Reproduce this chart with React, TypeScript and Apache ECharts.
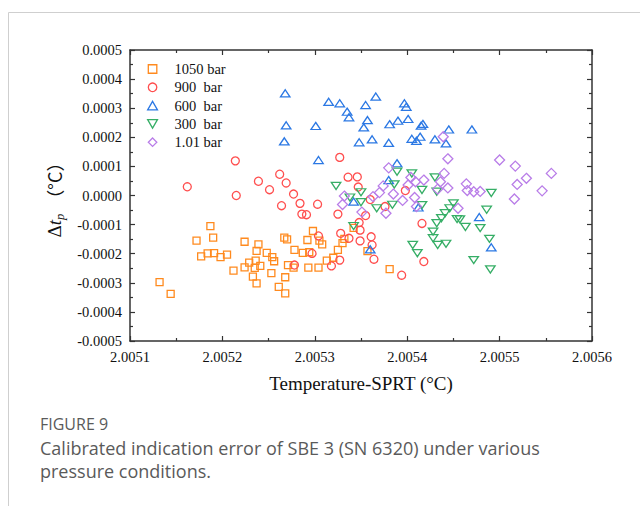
import React, { useEffect, useRef } from 'react';
import * as echarts from 'echarts';

const xTickValues = [2.0051, 2.0052, 2.0053, 2.0054, 2.0055, 2.0056];
const yTickValues = [-0.0005, -0.0004, -0.0003, -0.0002, -0.0001, 0, 0.0001, 0.0002, 0.0003, 0.0004, 0.0005];
const seriesNames = ['1050 bar', '900  bar', '600  bar', '300  bar', '1.01 bar'];
const seriesColors = ['#FF8A1E', '#FF4E4E', '#2B78E4', '#36AE66', '#B97DE8'];

const p1050: [number, number][] = [
  [2.005132, -0.000298], [2.005144, -0.000338], [2.005187, -0.000105], [2.005190, -0.000145],
  [2.005172, -0.000155], [2.005177, -0.000209], [2.005184, -0.000199], [2.005191, -0.000198],
  [2.005198, -0.000212], [2.005205, -0.000203], [2.005212, -0.000258], [2.005224, -0.000159],
  [2.005224, -0.000247], [2.005229, -0.000231], [2.005236, -0.000224], [2.005239, -0.000168],
  [2.005237, -0.000190], [2.005241, -0.000242], [2.005235, -0.000249], [2.005233, -0.000279],
  [2.005237, -0.000302], [2.005248, -0.000197], [2.005254, -0.000212], [2.005256, -0.000226],
  [2.005253, -0.000267], [2.005261, -0.000314], [2.005268, -0.000336], [2.005268, -0.000281],
  [2.005267, -0.000145], [2.005270, -0.000151], [2.005271, -0.000239], [2.005298, -0.000122],
  [2.005292, -0.000153], [2.005305, -0.000155], [2.005308, -0.000168], [2.005278, -0.000187],
  [2.005287, -0.000197], [2.005294, -0.000195], [2.005325, -0.000187], [2.005330, -0.000164],
  [2.005332, -0.000149], [2.005342, -0.000111], [2.005277, -0.000248], [2.005293, -0.000248],
  [2.005304, -0.000248], [2.005313, -0.000224], [2.005320, -0.000214], [2.005357, -0.000191],
  [2.005381, -0.000253],
];

const p900: [number, number][] = [
  [2.005162, 0.000030], [2.005214, 0.000119], [2.005215, 0.000000], [2.005239, 0.000049],
  [2.005251, 0.000020], [2.005262, 0.000073], [2.005269, 0.000043], [2.005264, -0.000035],
  [2.005277, 0.000005], [2.005284, -0.000027], [2.005286, -0.000064], [2.005291, -0.000066],
  [2.005303, -0.000030], [2.005325, -0.000064], [2.005327, 0.000131], [2.005336, 0.000063],
  [2.005346, 0.000064], [2.005347, 0.000029], [2.005360, -0.000014], [2.005398, 0.000017],
  [2.005348, -0.000093], [2.005349, -0.000119], [2.005328, -0.000130], [2.005337, -0.000147],
  [2.005349, -0.000156], [2.005361, -0.000142], [2.005362, -0.000170], [2.005304, -0.000139],
  [2.005297, -0.000199], [2.005278, -0.000239], [2.005327, -0.000222], [2.005318, -0.000242],
  [2.005364, -0.000219], [2.005416, -0.000096], [2.005418, -0.000227], [2.005394, -0.000274],
  [2.005376, -0.000038], [2.005355, -0.000069],
];

const p600: [number, number][] = [
  [2.005268, 0.000351], [2.005269, 0.000241], [2.005267, 0.000186], [2.005315, 0.000322],
  [2.005327, 0.000317], [2.005335, 0.000288], [2.005337, 0.000269], [2.005355, 0.000311],
  [2.005366, 0.000340], [2.005397, 0.000317], [2.005399, 0.000305], [2.005301, 0.000239],
  [2.005357, 0.000259], [2.005353, 0.000234], [2.005381, 0.000245], [2.005390, 0.000257],
  [2.005401, 0.000263], [2.005415, 0.000240], [2.005417, 0.000246], [2.005445, 0.000227],
  [2.005470, 0.000227], [2.005348, 0.000183], [2.005362, 0.000193], [2.005380, 0.000181],
  [2.005405, 0.000195], [2.005414, 0.000202], [2.005410, 0.000188], [2.005430, 0.000193],
  [2.005442, 0.000179], [2.005304, 0.000122], [2.005389, 0.000111], [2.005342, -0.000021],
  [2.005478, -0.000074], [2.005491, -0.000178], [2.005360, -0.000185], [2.005380, 0.000053],
  [2.005412, -0.000041],
];

const p300: [number, number][] = [
  [2.005323, 0.000033], [2.005350, 0.000011], [2.005350, -0.000023], [2.005367, -0.000044],
  [2.005384, -0.000032], [2.005389, 0.000082], [2.005386, 0.000038], [2.005405, 0.000076],
  [2.005416, 0.000019], [2.005430, 0.000062], [2.005432, 0.000013], [2.005416, -0.000033],
  [2.005450, -0.000027], [2.005446, -0.000044], [2.005338, -0.000007], [2.005441, -0.000061],
  [2.005454, -0.000081], [2.005491, 0.000009], [2.005486, -0.000049], [2.005463, -0.000108],
  [2.005479, -0.000112], [2.005489, -0.000149], [2.005472, -0.000222], [2.005490, -0.000254],
  [2.005457, -0.000082], [2.005432, -0.000095], [2.005437, -0.000078], [2.005428, -0.000124],
  [2.005428, -0.000147], [2.005433, -0.000170], [2.005442, -0.000166], [2.005406, -0.000170],
  [2.005411, -0.000198], [2.005342, -0.000105],
];

const p101: [number, number][] = [
  [2.005439, 0.000202], [2.005444, 0.000126], [2.005380, 0.000095], [2.005440, 0.000076],
  [2.005404, 0.000062], [2.005418, 0.000053], [2.005374, 0.000033], [2.005385, 0.000005],
  [2.005370, 0.000010], [2.005332, -0.000002], [2.005330, -0.000031], [2.005351, -0.000057],
  [2.005377, -0.000061], [2.005395, -0.000017], [2.005408, -0.000007], [2.005410, -0.000038],
  [2.005409, 0.000047], [2.005436, 0.000047], [2.005444, 0.000026], [2.005433, 0.000022],
  [2.005455, -0.000044], [2.005464, 0.000040], [2.005465, 0.000017], [2.005472, 0.000013],
  [2.005479, 0.000014], [2.005500, 0.000122], [2.005517, 0.000101], [2.005556, 0.000076],
  [2.005529, 0.000059], [2.005519, 0.000038], [2.005546, 0.000016], [2.005516, -0.000012],
  [2.005363, -0.000004], [2.005401, 0.000036],
];

const seriesData = [p1050, p900, p600, p300, p101];
const seriesSymbols = [
  'path://M0,0L10,0L10,10L0,10Z',
  'circle',
  'path://M5,0L10,8.66L0,8.66Z',
  'path://M0,0L10,0L5,8.66Z',
  'path://M5,0L10,5L5,10L0,5Z',
];
const seriesSizes: (number | number[])[] = [7, 8, [9.5, 8.2], [9.5, 8.2], [10, 10]];

const SERIF = "'Liberation Serif', 'Times New Roman', serif";
const SANS = "'Open Sans', 'Noto Sans', sans-serif";
const AXIS_COLOR = '#333';

const fmt = (v: number) => (Math.abs(v) < 1e-12 ? '0.0000' : v.toFixed(4));

export default function App() {
  const ref = useRef<HTMLDivElement>(null);
  useEffect(() => {
    if (!ref.current) return;
    const chart = echarts.init(ref.current, undefined, { renderer: 'svg' });
    const xMin = xTickValues[0];
    const xMax = xTickValues[xTickValues.length - 1];
    const yMin = yTickValues[0];
    const yMax = yTickValues[yTickValues.length - 1];
    const common = {
      axisLine: { show: true, onZero: false, lineStyle: { color: AXIS_COLOR, width: 1.5 } },
      axisTick: { show: true, inside: true, length: 5, lineStyle: { color: AXIS_COLOR, width: 1.2 } },
      minorTick: { show: true, splitNumber: 2, length: 3, lineStyle: { color: AXIS_COLOR, width: 1.2 } },
      splitLine: { show: false },
      minorSplitLine: { show: false },
    };
    const option: any = {
      animation: false,
      backgroundColor: '#fff',
      grid: { left: 130, top: 50, width: 462, height: 291, containLabel: false, outerBoundsMode: 'none' },
      xAxis: [
        {
          type: 'value', min: xMin, max: xMax, interval: 0.0001, position: 'bottom',
          ...common,
          axisLabel: {
            show: true, margin: 8, formatter: fmt, showMinLabel: true, showMaxLabel: true,
            fontFamily: SERIF, fontSize: 14.5, color: '#111',
          },
          name: 'Temperature-SPRT (°C)', nameLocation: 'middle', nameGap: 33,
          nameTextStyle: { fontFamily: SERIF, fontSize: 19, color: '#111' },
        },
        {
          type: 'value', min: xMin, max: xMax, interval: 0.0001, position: 'top',
          ...common, axisLabel: { show: false },
        },
      ],
      yAxis: [
        {
          type: 'value', min: yMin, max: yMax, interval: 0.0001, position: 'left',
          ...common,
          axisLabel: {
            show: true, margin: 8, formatter: fmt, showMinLabel: true, showMaxLabel: true,
            fontFamily: SERIF, fontSize: 14.5, color: '#111',
          },
          name: '{d|Δ}{t|t}{s|p}{g| }{u|（°C）}', nameLocation: 'middle', nameGap: 62, nameRotate: 90,
          nameTextStyle: {
            fontFamily: SERIF, fontSize: 19, color: '#111',
            rich: {
              d: { fontFamily: SERIF, fontSize: 19, color: '#111', lineHeight: 24 },
              t: { fontFamily: SERIF, fontSize: 19, fontStyle: 'italic', color: '#111', lineHeight: 24 },
              s: { fontFamily: SERIF, fontSize: 12.5, fontStyle: 'italic', color: '#111', lineHeight: 12, verticalAlign: 'bottom' },
              g: { fontFamily: SERIF, fontSize: 19, lineHeight: 24, width: 6 },
              u: { fontFamily: "'Noto Sans CJK SC', 'Liberation Serif', serif", fontSize: 18, color: '#111', lineHeight: 24 },
            },
          },
        },
        {
          type: 'value', min: yMin, max: yMax, interval: 0.0001, position: 'right',
          ...common, axisLabel: { show: false },
        },
      ],
      legend: {
        orient: 'vertical', left: 147, top: 60, padding: 0, itemGap: 0.3,
        itemWidth: 34, itemHeight: 8.5, selectedMode: false, symbolKeepAspect: true,
        textStyle: { fontFamily: SERIF, fontSize: 14.5, color: '#111', lineHeight: 18 },
        data: seriesNames.map((n, i) => ({
          name: n,
          icon: seriesSymbols[i],
          itemStyle: { color: 'rgba(0,0,0,0)', borderColor: seriesColors[i], borderWidth: 1.3 },
        })),
      },
      series: seriesNames.map((n, i) => ({
        name: n,
        type: 'scatter',
        xAxisIndex: 0,
        yAxisIndex: 0,
        data: seriesData[i],
        symbol: seriesSymbols[i],
        symbolSize: seriesSizes[i],
        symbolKeepAspect: true,
        itemStyle: { color: 'rgba(0,0,0,0)', borderColor: seriesColors[i], borderWidth: 1.3, opacity: 1 },
        emphasis: { disabled: true },
      })),
      graphic: [
        { type: 'line', shape: { x1: 8.5, y1: 12.5, x2: 640, y2: 12.5 }, style: { stroke: '#cfcfcf', lineWidth: 1 }, silent: true },
        { type: 'line', shape: { x1: 8.5, y1: 12.5, x2: 8.5, y2: 506 }, style: { stroke: '#cfcfcf', lineWidth: 1 }, silent: true },
        { type: 'text', x: 40, y: 424, style: { text: 'FIGURE 9', fontFamily: SANS, fontSize: 16, fill: '#5a5a5a', verticalAlign: 'middle' } },
        { type: 'text', x: 40, y: 448, style: { text: 'Calibrated indication error of SBE 3 (SN 6320) under various', fontFamily: SANS, fontSize: 18, fill: '#5a5a5a', verticalAlign: 'middle' } },
        { type: 'text', x: 40, y: 471, style: { text: 'pressure conditions.', fontFamily: SANS, fontSize: 18, fill: '#5a5a5a', verticalAlign: 'middle' } },
      ],
    };
    chart.setOption(option);
    return () => chart.dispose();
  }, []);
  return <div ref={ref} style={{ position: 'absolute', left: 0, top: 0, width: 640, height: 506 }} />;
}
